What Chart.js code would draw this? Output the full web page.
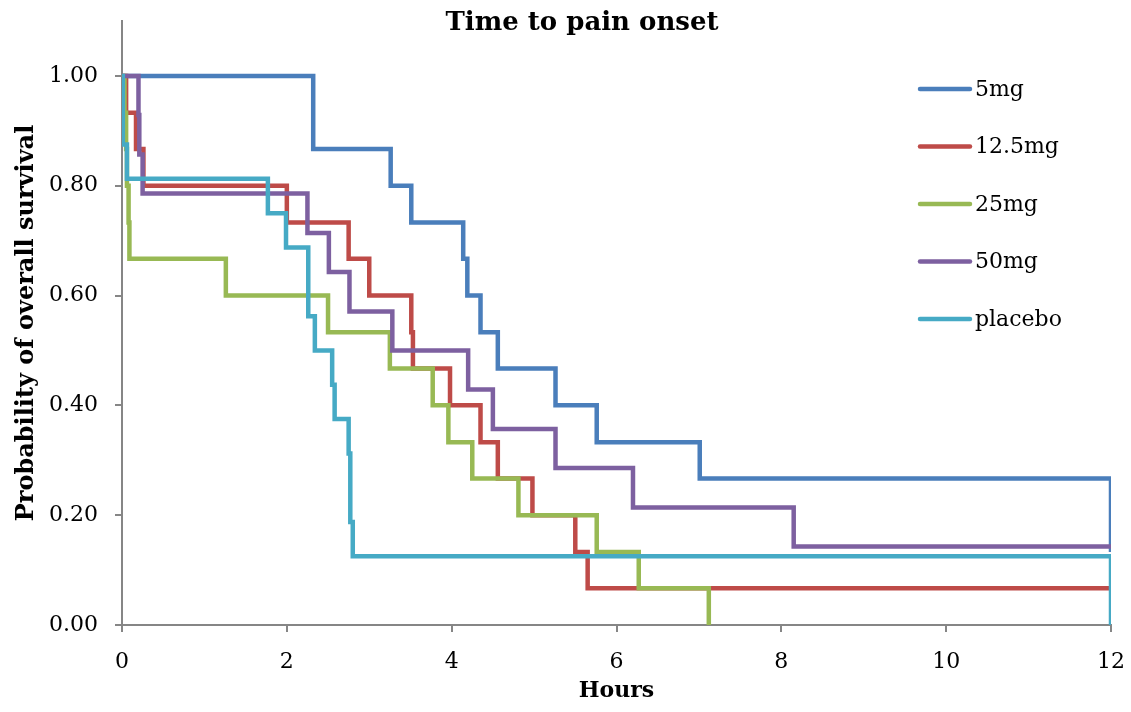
<!DOCTYPE html>
<html lang="en">
<head>
    <meta charset="UTF-8">
    <title>Time to pain onset</title>
    <script src="https://cdn.jsdelivr.net/npm/chart.js"></script>
    <style>
        body { margin: 0; background: #fff; }
        #wrap { width: 1131px; height: 712px; }
    </style>
</head>
<body>
    <div id="wrap"><canvas id="kmChart" width="1131" height="712"></canvas></div>

    <script>
        // time (hours) at which each step happens, and survival after the step
        const labels = ["5mg", "12.5mg", "25mg", "50mg", "placebo"];
        const colors = ["#4a7ebb", "#be4b48", "#98b954", "#7d60a0", "#46aac5"];

        const t5mg  = [0, 2.32, 3.26, 3.51, 4.14, 4.19, 4.35, 4.56, 5.26, 5.76, 7.01, 12];
        const s5mg  = [1, 0.867, 0.800, 0.733, 0.667, 0.600, 0.533, 0.467, 0.400, 0.333, 0.267, 0.133];

        const t12mg = [0, 0.05, 0.17, 0.26, 2.0, 2.75, 3.0, 3.51, 3.53, 3.98, 4.35, 4.56, 4.98, 5.5, 5.65, 12];
        const s12mg = [1, 0.933, 0.867, 0.800, 0.733, 0.667, 0.600, 0.533, 0.467, 0.400, 0.333, 0.267, 0.200, 0.133, 0.067, 0.067];

        const t25mg = [0, 0.03, 0.05, 0.06, 0.08, 0.09, 1.26, 2.5, 3.25, 3.77, 3.96, 4.25, 4.81, 5.76, 6.27, 7.12];
        const s25mg = [1, 0.933, 0.867, 0.800, 0.733, 0.667, 0.600, 0.533, 0.467, 0.400, 0.333, 0.267, 0.200, 0.133, 0.067, 0];

        const t50mg = [0, 0.2, 0.21, 0.25, 2.25, 2.51, 2.76, 3.28, 4.2, 4.5, 5.26, 6.2, 8.15, 12];
        const s50mg = [1, 0.929, 0.857, 0.786, 0.714, 0.643, 0.571, 0.500, 0.429, 0.357, 0.286, 0.214, 0.143, 0.143];

        const tPlacebo = [0, 0.01, 0.06, 1.77, 1.99, 2.26, 2.34, 2.55, 2.58, 2.75, 2.77, 2.8, 12];
        const sPlacebo = [1, 0.875, 0.8125, 0.75, 0.6875, 0.5625, 0.5, 0.4375, 0.375, 0.3125, 0.1875, 0.125, 0];

        const xTicks = [0, 2, 4, 6, 8, 10, 12];
        const yTicks = [0, 0.2, 0.4, 0.6, 0.8, 1.0];

        const times = [t5mg, t12mg, t25mg, t50mg, tPlacebo];
        const surv = [s5mg, s12mg, s25mg, s50mg, sPlacebo];

        const datasets = labels.map((lab, i) => ({
            label: lab,
            data: times[i].map((t, j) => ({ x: t, y: surv[i][j] })),
            borderColor: colors[i],
            backgroundColor: colors[i],
            borderWidth: 4.5,
            stepped: 'before',
            pointRadius: 0,
            fill: false,
            borderJoinStyle: 'miter',
            borderCapStyle: 'butt',
            order: labels.length - i
        }));

        const serif = "'DejaVu Serif', serif";

        // title and the legend inside the plot are drawn by hand
        const decor = {
            id: 'decor',
            afterDraw(chart) {
                const ctx = chart.ctx;
                ctx.save();
                ctx.fillStyle = '#000';
                ctx.font = "bold 26px " + serif;
                ctx.textAlign = 'center';
                ctx.textBaseline = 'middle';
                ctx.fillText("Time to pain onset", 582, 23);

                ctx.font = "22px " + serif;
                ctx.textAlign = 'left';
                chart.data.datasets.forEach((ds, i) => {
                    const y = 89 + i * 57.5;
                    ctx.strokeStyle = ds.borderColor;
                    ctx.lineWidth = 4.5;
                    ctx.lineCap = 'round';
                    ctx.beginPath();
                    ctx.moveTo(920, y);
                    ctx.lineTo(970, y);
                    ctx.stroke();
                    ctx.fillText(ds.label, 975, y + 1);
                });
                ctx.restore();
            }
        };

        Chart.defaults.color = '#000';
        Chart.defaults.font.family = serif;

        new Chart(document.getElementById('kmChart'), {
            type: 'line',
            data: { datasets },
            options: {
                responsive: false,
                animation: false,
                devicePixelRatio: 1,
                layout: { padding: { top: 21, right: 20, left: 0, bottom: 0 } },
                plugins: {
                    legend: { display: false },
                    tooltip: { enabled: false },
                    title: { display: false }
                },
                scales: {
                    x: {
                        type: 'linear',
                        min: 0,
                        max: 12,
                        afterBuildTicks: s => { s.ticks = xTicks.map(v => ({ value: v })); },
                        afterFit: s => { s.height = 87; s.paddingLeft = 0; s.paddingRight = 0; },
                        grid: { drawOnChartArea: false, tickLength: 7, color: '#868686', lineWidth: 2 },
                        border: { color: '#868686', width: 2 },
                        ticks: { font: { size: 22 }, padding: 17, maxRotation: 0 },
                        title: {
                            display: true,
                            text: 'Hours',
                            font: { size: 22, weight: 'bold' },
                            padding: { top: 0, bottom: 8 }
                        }
                    },
                    y: {
                        min: 0,
                        max: 1.1,
                        afterBuildTicks: s => { s.ticks = yTicks.map(v => ({ value: v })); },
                        afterFit: s => { s.width = 122; s.paddingTop = 0; s.paddingBottom = 0; },
                        grid: { drawOnChartArea: false, tickLength: 7, color: '#868686', lineWidth: 2 },
                        border: { color: '#868686', width: 2 },
                        ticks: { font: { size: 22 }, padding: 17, callback: v => v.toFixed(2) },
                        title: {
                            display: true,
                            text: 'Probability of overall survival',
                            font: { size: 24, weight: 'bold' },
                            padding: { top: 12, bottom: 0 }
                        }
                    }
                }
            },
            plugins: [decor]
        });
    </script>
</body>
</html>
